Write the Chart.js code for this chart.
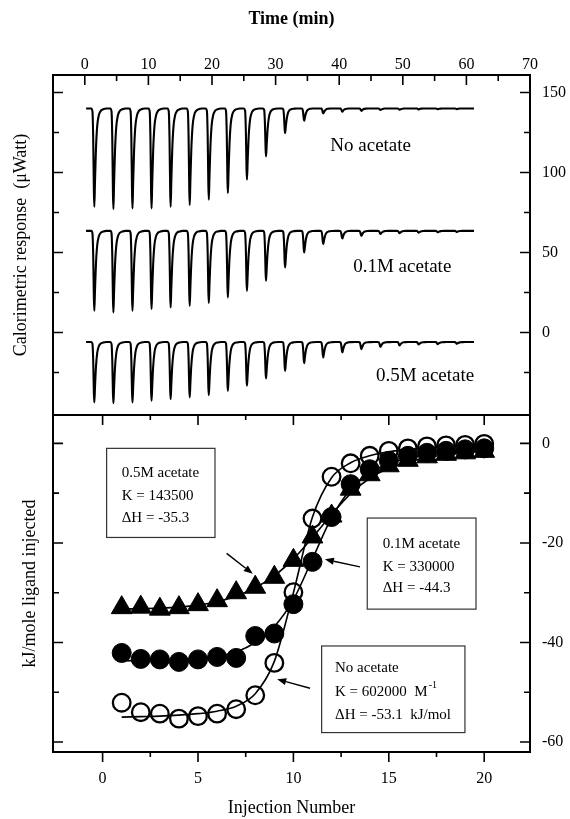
<!DOCTYPE html>
<html>
<head>
<meta charset="utf-8">
<script src="https://cdn.jsdelivr.net/npm/chart.js@4.4.1/dist/chart.umd.min.js"></script>
<style>
  html, body { margin: 0; padding: 0; background: #fff; }
  #wrap { position: relative; width: 570px; height: 819px; }
  #wrap canvas { position: absolute; left: 0; top: 0; }
</style>
</head>
<body>
<div id="wrap">
  <canvas id="rawChart" width="570" height="819"></canvas>
  <canvas id="heatChart" width="570" height="819"></canvas>
</div>
<script>
// ---------------- Top panel data (raw ITC traces) ----------------
const injectionTimes = [1.5, 4.5, 7.5, 10.5, 13.5, 16.5, 19.5, 22.5, 25.5, 28.5,
  31.5, 34.5, 37.5, 40.5, 43.5, 46.5, 49.5, 52.5, 55.5, 58.5];
const traceStart = 0.2;
const traceEnd = 61.2;

const baseNoAcetate = 140;
const base01M = 63.5;
const base05M = -6;

// depth of each peak below its baseline (uWatt)
const peaksNoAcetate = [61.5, 62.9, 62.5, 62.5, 61.5, 60.4, 57.1, 52.9, 44.6, 30.0,
  15.4, 7.7, 3.1, 2.0, 1.5, 1.0, 0.8, 0.6, 0.5, 0.4];
const peaks01M = [50.0, 51.0, 50.0, 48.9, 47.9, 46.9, 45.2, 41.6, 37.5, 31.2,
  22.9, 13.5, 8.3, 4.8, 3.1, 2.0, 1.5, 1.1, 0.9, 0.7];
const peaks05M = [37.8, 38.2, 37.8, 36.7, 35.7, 34.6, 33.2, 30.5, 27.3, 22.8,
  18.0, 13.2, 9.6, 6.5, 4.4, 3.0, 2.1, 1.5, 1.3, 1.1];

// shape of one peak (min offset, fraction of depth)
const peakShapeT = [-0.5, -0.3, -0.18, -0.07, 0, 0.1, 0.25, 0.45, 0.7, 1.0, 1.4, 1.9];
const peakShapeF = [0, 0.03, 0.3, 0.85, 1, 0.75, 0.42, 0.18, 0.07, 0.025, 0.008, 0];

const timeLabels = [0, 10, 20, 30, 40, 50, 60, 70];
const timeTicks = [0, 5, 10, 15, 20, 25, 30, 35, 40, 45, 50, 55, 60, 65];
const rawLabels = [0, 50, 100, 150];
const rawTicks = [-25, 0, 25, 50, 75, 100, 125, 150];

// ---------------- Bottom panel data (integrated heats) ----------------
const injections = [1, 2, 3, 4, 5, 6, 7, 8, 9, 10, 11, 12, 13, 14, 15, 16, 17, 18, 19, 20];
const heatNoAcetate = [-52.1, -54.0, -54.3, -55.3, -54.8, -54.3, -53.4, -50.6, -44.1, -29.9,
  -15.1, -6.7, -4.0, -2.5, -1.5, -1.0, -0.6, -0.4, -0.3, -0.1];
const heat01M = [-42.1, -43.3, -43.4, -43.9, -43.4, -42.9, -43.1, -38.7, -38.2, -32.3,
  -23.8, -14.8, -8.2, -5.2, -3.5, -2.5, -1.9, -1.5, -1.2, -1.0];
const heat05M = [-33.0, -32.9, -33.3, -33.0, -32.4, -31.6, -30.0, -28.9, -26.9, -23.5,
  -18.8, -14.6, -9.2, -6.3, -4.5, -3.4, -2.7, -2.2, -1.9, -1.6];
const fitNoAcetate = [-55.0, -54.9, -54.8, -54.6, -54.3, -53.8, -52.8, -50.3, -43.8, -30.0,
  -14.8, -6.9, -3.9, -2.5, -1.7, -1.2, -0.9, -0.7, -0.6, -0.5];
const fit01M = [-43.7, -43.6, -43.5, -43.4, -43.2, -42.8, -41.9, -40.0, -36.8, -31.4,
  -23.2, -14.9, -9.2, -5.9, -4.1, -3.0, -2.3, -1.9, -1.6, -1.4];
const fit05M = [-33.3, -33.2, -33.1, -32.9, -32.5, -31.8, -30.7, -29.0, -26.6, -23.2,
  -18.9, -14.3, -10.1, -7.0, -5.0, -3.7, -2.9, -2.3, -1.9, -1.6];

const injLabels = [0, 5, 10, 15, 20];
const injTicks = [0, 2.5, 5, 7.5, 10, 12.5, 15, 17.5, 20];
const heatLabels = [0, -20, -40, -60];
const heatTicks = [0, -10, -20, -30, -40, -50, -60];

// ---------------- Helpers ----------------
Chart.defaults.font.family = "'Liberation Serif', 'Times New Roman', serif";
Chart.defaults.color = "#000";

function buildTrace(base, depths) {
  const pts = [{ x: traceStart, y: base }];
  injectionTimes.forEach((t, i) => {
    peakShapeT.forEach((dt, k) => {
      pts.push({ x: t + dt, y: base - depths[i] * peakShapeF[k] });
    });
  });
  pts.push({ x: traceEnd, y: base });
  return pts;
}

function pairs(xs, ys) {
  return xs.map((x, i) => ({ x, y: ys[i] }));
}

function traceSet(points) {
  return {
    data: points, xAxisID: "xT", yAxisID: "yR", showLine: true,
    pointRadius: 0, borderColor: "#000", borderWidth: 2.1,
    cubicInterpolationMode: "monotone",
  };
}

function fixedTicks(values) {
  return (scale) => { scale.ticks = values.map((v) => ({ value: v })); };
}

const hiddenGrid = { display: false, drawTicks: false };

// ---------------- Top chart ----------------
const rawFrame = {
  id: "rawFrame",
  afterDraw(chart) {
    const { ctx, chartArea: a, scales } = chart;
    const xT = scales.xT, yR = scales.yR;
    ctx.save();
    ctx.strokeStyle = "#000";
    ctx.lineWidth = 2;
    ctx.strokeRect(a.left, a.top, a.right - a.left, a.bottom - a.top);
    ctx.lineWidth = 1.6;
    ctx.beginPath();
    timeTicks.forEach((v) => {
      const x = xT.getPixelForValue(v);
      const len = v % 10 === 0 ? 10 : 6;
      ctx.moveTo(x, a.top);
      ctx.lineTo(x, a.top + len);
    });
    rawTicks.forEach((v) => {
      const y = yR.getPixelForValue(v);
      const len = v % 50 === 0 ? 10 : 6;
      ctx.moveTo(a.left, y);
      ctx.lineTo(a.left + len, y);
      ctx.moveTo(a.right, y);
      ctx.lineTo(a.right - len, y);
    });
    ctx.stroke();

    ctx.fillStyle = "#000";
    ctx.font = "19px 'Liberation Serif', serif";
    ctx.textBaseline = "middle";
    ctx.textAlign = "left";
    ctx.fillText("No acetate", xT.getPixelForValue(38.6), yR.getPixelForValue(116.6));
    ctx.fillText("0.1M acetate", xT.getPixelForValue(42.2), yR.getPixelForValue(41.1));
    ctx.fillText("0.5M acetate", xT.getPixelForValue(45.8), yR.getPixelForValue(-27.2));
    ctx.restore();
  },
};

new Chart(document.getElementById("rawChart"), {
  type: "scatter",
  data: {
    datasets: [
      traceSet(buildTrace(baseNoAcetate, peaksNoAcetate)),
      traceSet(buildTrace(base01M, peaks01M)),
      traceSet(buildTrace(base05M, peaks05M)),
    ],
  },
  options: {
    responsive: false,
    animation: false,
    events: [],
    layout: { padding: { top: 0, left: 0, right: 0, bottom: 404 } },
    plugins: { legend: { display: false }, tooltip: { enabled: false } },
    scales: {
      xT: {
        type: "linear", position: "top", min: -5, max: 70,
        grid: hiddenGrid, border: { display: false },
        afterBuildTicks: fixedTicks(timeLabels),
        ticks: { autoSkip: false, maxRotation: 0, padding: 1, font: { size: 16 } },
        title: { display: true, text: "Time (min)", font: { size: 18, weight: "bold" }, padding: { top: 9, bottom: 0 } },
        afterFit: (s) => { s.height = 75; },
      },
      yR: {
        type: "linear", position: "right", min: -51.6, max: 160.9,
        grid: hiddenGrid, border: { display: false },
        afterBuildTicks: fixedTicks(rawLabels),
        ticks: { padding: 12, font: { size: 16 } },
        afterFit: (s) => { s.width = 40; },
      },
      yL: {
        type: "linear", position: "left", min: 0, max: 1,
        grid: hiddenGrid, border: { display: false },
        ticks: { display: false },
        title: { display: true, text: "Calorimetric response  (\u03bcWatt)", font: { size: 18 }, padding: { top: 10, bottom: 0 } },
        afterFit: (s) => { s.width = 53; },
      },
    },
  },
  plugins: [rawFrame],
});

// ---------------- Bottom chart ----------------
const noteBoxes = [
  { box: [0.21, -1.0, 5.89, -18.9], textX: 1.0,
    lines: [["0.5M acetate", -6.0], ["K = 143500", -10.6], ["\u0394H = -35.3", -15.0]] },
  { box: [13.87, -15.0, 19.57, -33.3], textX: 14.68,
    lines: [["0.1M acetate", -20.2], ["K = 330000", -24.8], ["\u0394H = -44.3", -29.1]] },
  { box: [11.48, -40.7, 18.99, -58.1], textX: 12.18,
    lines: [["No acetate", -45.2], ["K = 602000  M", -49.9, "-1"], ["\u0394H = -53.1  kJ/mol", -54.6]] },
];
const noteArrows = [
  [6.5, -22.1, 7.87, -26.2],
  [13.49, -24.8, 11.65, -23.3],
  [10.87, -49.2, 9.15, -47.4],
];

const heatFrame = {
  id: "heatFrame",
  afterDraw(chart) {
    const { ctx, chartArea: a, scales } = chart;
    const xB = scales.xB, yB = scales.yB;
    ctx.save();
    ctx.strokeStyle = "#000";
    ctx.lineWidth = 2;
    ctx.strokeRect(a.left, a.top, a.right - a.left, a.bottom - a.top);
    ctx.lineWidth = 1.6;
    ctx.beginPath();
    injTicks.forEach((v) => {
      const x = xB.getPixelForValue(v);
      const len = v % 5 === 0 ? 10 : 5;
      ctx.moveTo(x, a.top);
      ctx.lineTo(x, a.top + len);
      ctx.moveTo(x, a.bottom);
      ctx.lineTo(x, a.bottom + len);
    });
    heatTicks.forEach((v) => {
      const y = yB.getPixelForValue(v);
      const len = v % 20 === 0 ? 10 : 6;
      ctx.moveTo(a.left, y);
      ctx.lineTo(a.left + len, y);
      ctx.moveTo(a.right, y);
      ctx.lineTo(a.right - len, y);
    });
    ctx.stroke();

    // annotation boxes
    noteBoxes.forEach((n) => {
      const x0 = xB.getPixelForValue(n.box[0]);
      const y0 = yB.getPixelForValue(n.box[1]);
      const x1 = xB.getPixelForValue(n.box[2]);
      const y1 = yB.getPixelForValue(n.box[3]);
      ctx.fillStyle = "#fff";
      ctx.fillRect(x0, y0, x1 - x0, y1 - y0);
      ctx.strokeStyle = "#333";
      ctx.lineWidth = 1.2;
      ctx.strokeRect(x0, y0, x1 - x0, y1 - y0);
      ctx.fillStyle = "#000";
      ctx.textBaseline = "middle";
      ctx.textAlign = "left";
      const tx = xB.getPixelForValue(n.textX);
      n.lines.forEach(([txt, v, sup]) => {
        const ty = yB.getPixelForValue(v);
        ctx.font = "15px 'Liberation Serif', serif";
        ctx.fillText(txt, tx, ty);
        if (sup) {
          const w = ctx.measureText(txt).width;
          ctx.font = "10px 'Liberation Serif', serif";
          ctx.fillText(sup, tx + w + 1, ty - 6);
        }
      });
    });

    // arrows
    ctx.strokeStyle = "#000";
    ctx.fillStyle = "#000";
    ctx.lineWidth = 1.4;
    noteArrows.forEach(([ax, ay, bx, by]) => {
      const x0 = xB.getPixelForValue(ax), y0 = yB.getPixelForValue(ay);
      const x1 = xB.getPixelForValue(bx), y1 = yB.getPixelForValue(by);
      const ang = Math.atan2(y1 - y0, x1 - x0);
      const hl = 9, hw = 3.5;
      const bxp = x1 - hl * Math.cos(ang), byp = y1 - hl * Math.sin(ang);
      ctx.beginPath();
      ctx.moveTo(x0, y0);
      ctx.lineTo(bxp, byp);
      ctx.stroke();
      ctx.beginPath();
      ctx.moveTo(x1, y1);
      ctx.lineTo(bxp + hw * Math.sin(ang), byp - hw * Math.cos(ang));
      ctx.lineTo(bxp - hw * Math.sin(ang), byp + hw * Math.cos(ang));
      ctx.closePath();
      ctx.fill();
    });
    ctx.restore();
  },
};

function fitSet(values) {
  return {
    data: pairs(injections, values), xAxisID: "xB", yAxisID: "yB",
    showLine: true, pointRadius: 0, borderColor: "#000", borderWidth: 1.6,
    cubicInterpolationMode: "monotone", order: 3,
  };
}

new Chart(document.getElementById("heatChart"), {
  type: "scatter",
  data: {
    datasets: [
      { data: pairs(injections, heatNoAcetate), xAxisID: "xB", yAxisID: "yB",
        pointStyle: "circle", pointRadius: 8.8, borderWidth: 2.3,
        borderColor: "#000", backgroundColor: "rgba(0,0,0,0)", order: 0 },
      { data: pairs(injections, heat01M), xAxisID: "xB", yAxisID: "yB",
        pointStyle: "circle", pointRadius: 9.5, borderWidth: 1,
        borderColor: "#000", backgroundColor: "#000", order: 1 },
      { data: pairs(injections, heat05M), xAxisID: "xB", yAxisID: "yB",
        pointStyle: "triangle", pointRadius: 12, borderWidth: 1,
        borderColor: "#000", backgroundColor: "#000", order: 2 },
      fitSet(fitNoAcetate),
      fitSet(fit01M),
      fitSet(fit05M),
    ],
  },
  options: {
    responsive: false,
    animation: false,
    events: [],
    layout: { padding: { top: 415, left: 0, right: 0, bottom: 0 } },
    plugins: { legend: { display: false }, tooltip: { enabled: false } },
    scales: {
      xB: {
        type: "linear", position: "bottom", min: -2.6, max: 22.4,
        grid: hiddenGrid, border: { display: false },
        afterBuildTicks: fixedTicks(injLabels),
        ticks: { autoSkip: false, maxRotation: 0, padding: 17, font: { size: 16 } },
        title: { display: true, text: "Injection Number", font: { size: 18 }, padding: { top: 0, bottom: 0 } },
        afterFit: (s) => { s.height = 67; },
      },
      yB: {
        type: "linear", position: "right", min: -62, max: 5.7,
        grid: hiddenGrid, border: { display: false },
        afterBuildTicks: fixedTicks(heatLabels),
        ticks: { padding: 12, font: { size: 16 } },
        afterFit: (s) => { s.width = 40; },
      },
      yBL: {
        type: "linear", position: "left", min: 0, max: 1,
        grid: hiddenGrid, border: { display: false },
        ticks: { display: false },
        title: { display: true, text: "kJ/mole ligand injected", font: { size: 18 }, padding: { top: 19, bottom: 0 } },
        afterFit: (s) => { s.width = 53; },
      },
    },
  },
  plugins: [heatFrame],
});
</script>
</body>
</html>
